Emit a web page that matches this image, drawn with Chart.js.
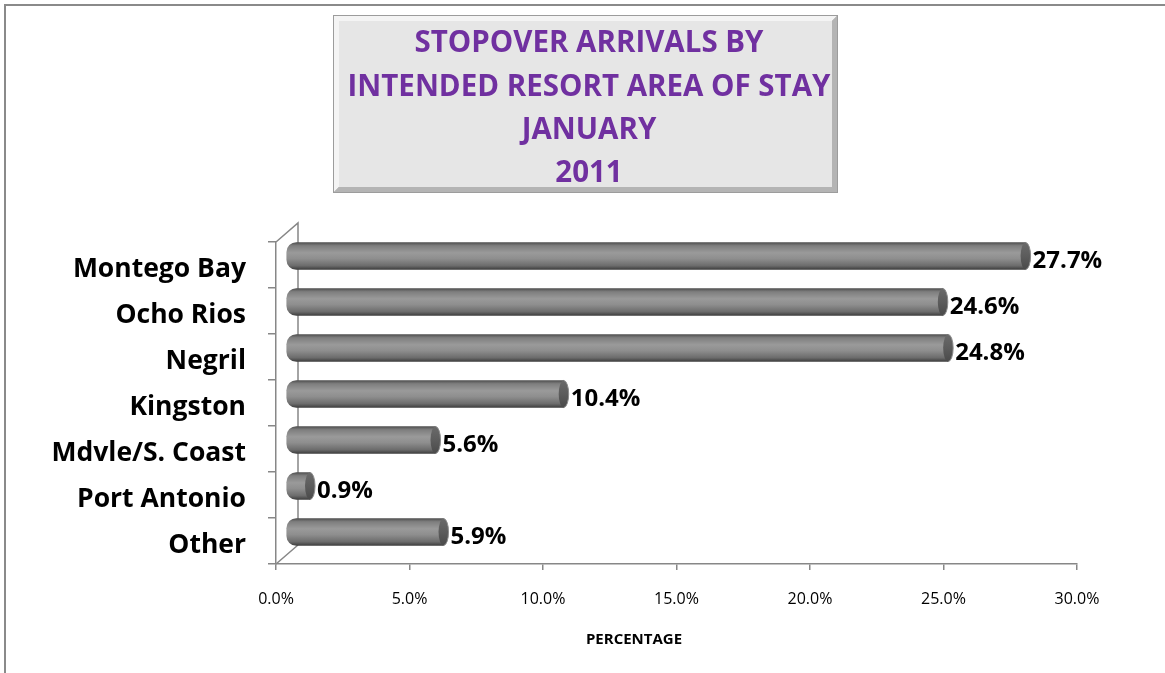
<!DOCTYPE html>
<html><head><meta charset="utf-8">
<script src="https://cdn.jsdelivr.net/npm/chart.js@4.4.0/dist/chart.umd.min.js"></script>
<style>html,body{margin:0;padding:0;background:#fff;overflow:hidden}#wrap{position:relative;width:1165px;height:673px}</style>
</head><body><div id="wrap"><canvas id="c" width="1165" height="673"></canvas></div>
<script>
const titleLines = ['STOPOVER ARRIVALS BY', 'INTENDED RESORT AREA OF STAY', 'JANUARY', '2011'];
const categories = ['Montego Bay', 'Ocho Rios', 'Negril', 'Kingston', 'Mdvle/S. Coast', 'Port Antonio', 'Other'];
const values = [27.7, 24.6, 24.8, 10.4, 5.6, 0.9, 5.9];
const xAxisTitle = 'PERCENTAGE';
const xMin = 0, xMax = 30, xStep = 5;

const FONT = '"Open Sans", "DejaVu Sans", sans-serif';
const BAR_H = 27;
const BAR_DX = 10, BAR_DY = -9;   // cylinder plane offset (3D depth)
const WALL_DX = 22, WALL_DY = -19; // back wall offset
const AXIS_COLOR = '#878787';

function barGradient(ctx, cy) {
  const g = ctx.createLinearGradient(0, cy - BAR_H / 2, 0, cy + BAR_H / 2);
  g.addColorStop(0, '#505050');
  g.addColorStop(0.12, '#7e7e7e');
  g.addColorStop(0.38, '#9a9a9a');
  g.addColorStop(0.6, '#8e8e8e');
  g.addColorStop(0.86, '#6c6c6c');
  g.addColorStop(1, '#3e3e3e');
  return g;
}

const decor = {
  id: 'decor',
  beforeDraw(chart) {
    const ctx = chart.ctx;
    ctx.save();
    ctx.fillStyle = '#fff';
    ctx.fillRect(0, 0, chart.width, chart.height);
    ctx.strokeStyle = '#8a8a8a';
    ctx.lineWidth = 2;
    ctx.strokeRect(5, 5, 3000, 3000);
    const bx = 333, by = 15, bw = 505, bh = 178;
    ctx.fillStyle = '#9c9c9c';
    ctx.fillRect(bx, by, bw, bh);
    const bev = 5;
    ctx.fillStyle = '#f4f4f4';
    ctx.beginPath();
    ctx.moveTo(bx + 1, by + 1); ctx.lineTo(bx + bw - 1, by + 1); ctx.lineTo(bx + bw - 1 - bev, by + 1 + bev);
    ctx.lineTo(bx + 1 + bev, by + 1 + bev); ctx.lineTo(bx + 1 + bev, by + bh - 1 - bev); ctx.lineTo(bx + 1, by + bh - 1);
    ctx.closePath(); ctx.fill();
    ctx.fillStyle = '#b4b4b4';
    ctx.beginPath();
    ctx.moveTo(bx + bw - 1, by + 1); ctx.lineTo(bx + bw - 1, by + bh - 1); ctx.lineTo(bx + 1, by + bh - 1);
    ctx.lineTo(bx + 1 + bev, by + bh - 1 - bev); ctx.lineTo(bx + bw - 1 - bev, by + bh - 1 - bev); ctx.lineTo(bx + bw - 1 - bev, by + 1 + bev);
    ctx.closePath(); ctx.fill();
    ctx.fillStyle = '#e6e6e6';
    ctx.fillRect(bx + 1 + bev, by + 1 + bev, bw - 2 - 2 * bev, bh - 2 - 2 * bev);
    ctx.fillStyle = '#7030a0';
    ctx.font = 'bold 29.5px ' + FONT;
    ctx.textAlign = 'center';
    ctx.textBaseline = 'middle';
    titleLines.forEach((t, i) => ctx.fillText(t, 589, 44 + i * 43.3));
    ctx.restore();
  },
  beforeDatasetsDraw(chart) {
    const ctx = chart.ctx, a = chart.chartArea;
    ctx.save();
    ctx.strokeStyle = AXIS_COLOR;
    ctx.lineWidth = 1.5;
    ctx.beginPath();
    ctx.moveTo(a.left, a.top); ctx.lineTo(a.left + WALL_DX, a.top + WALL_DY);
    ctx.lineTo(a.left + WALL_DX, a.bottom + WALL_DY);
    ctx.moveTo(a.left, a.bottom); ctx.lineTo(a.left + WALL_DX, a.bottom + WALL_DY);
    ctx.stroke();
    ctx.restore();
    const meta = chart.getDatasetMeta(0);
    meta.data.forEach((el) => {
      if (el.options && isFinite(el.y)) el.options.backgroundColor = barGradient(ctx, el.y);
    });
    ctx.save();
    ctx.translate(BAR_DX, BAR_DY);
  },
  afterDatasetsDraw(chart) {
    const ctx = chart.ctx;
    const meta = chart.getDatasetMeta(0);
    meta.data.forEach((el, i) => {
      const rx = 5, ry = el.height / 2;
      const g = ctx.createLinearGradient(0, el.y - ry, 0, el.y + ry);
      g.addColorStop(0, '#6a6a6a'); g.addColorStop(0.5, '#5c5c5c'); g.addColorStop(1, '#4a4a4a');
      ctx.beginPath();
      ctx.ellipse(el.x, el.y, rx, ry, 0, 0, Math.PI * 2);
      ctx.fillStyle = g;
      ctx.fill();
      ctx.strokeStyle = '#8c8c8c';
      ctx.lineWidth = 1;
      ctx.beginPath();
      ctx.ellipse(el.x, el.y, rx, ry, 0, -Math.PI / 2, Math.PI / 2);
      ctx.stroke();
      ctx.fillStyle = '#000';
      ctx.font = 'bold 24px ' + FONT;
      ctx.textAlign = 'left';
      ctx.textBaseline = 'middle';
      ctx.fillText(values[i].toFixed(1) + '%', el.x + rx + 2, el.y + 5.5);
    });
    ctx.restore();
  },
  afterDraw(chart) {
    const ctx = chart.ctx;
    ctx.save();
    ctx.fillStyle = '#000';
    ctx.font = 'bold 15px ' + FONT;
    ctx.textAlign = 'center';
    ctx.textBaseline = 'middle';
    ctx.fillText(xAxisTitle, 634, 640);
    ctx.restore();
  }
};

new Chart(document.getElementById('c'), {
  type: 'bar',
  data: {
    labels: categories,
    datasets: [{
      data: values,
      barThickness: BAR_H,
      borderWidth: 0,
      borderSkipped: false,
      borderRadius: { topLeft: 10, bottomLeft: 10, topRight: 0, bottomRight: 0 },
      // scriptable so every bar gets its own options object (gradient set per bar before drawing)
      backgroundColor: (c) => '#888888'
    }]
  },
  options: {
    indexAxis: 'y',
    responsive: false,
    animation: false,
    devicePixelRatio: 1,
    layout: { padding: { left: 0, top: 242, right: 88, bottom: 0 } },
    plugins: { legend: { display: false }, title: { display: false }, tooltip: { enabled: false } },
    scales: {
      x: {
        min: xMin, max: xMax,
        afterFit: (s) => { s.height = 109; },
        ticks: {
          stepSize: xStep, padding: 20, color: '#000',
          font: { family: FONT, size: 16 },
          callback: (v) => Number(v).toFixed(1) + '%'
        },
        grid: { drawOnChartArea: false, drawTicks: true, tickLength: 6, color: AXIS_COLOR, lineWidth: 1.5 },
        border: { display: true, color: AXIS_COLOR, width: 1.5 }
      },
      y: {
        afterFit: (s) => { s.width = 276; },
        ticks: { padding: 22, labelOffset: 4, color: '#000', font: { family: FONT, size: 26.5, weight: 'bold' } },
        grid: { drawOnChartArea: false, drawTicks: true, tickLength: 8, color: AXIS_COLOR, lineWidth: 1.5 },
        border: { display: true, color: AXIS_COLOR, width: 1.5 }
      }
    }
  },
  plugins: [decor]
});
</script>
</body></html>
